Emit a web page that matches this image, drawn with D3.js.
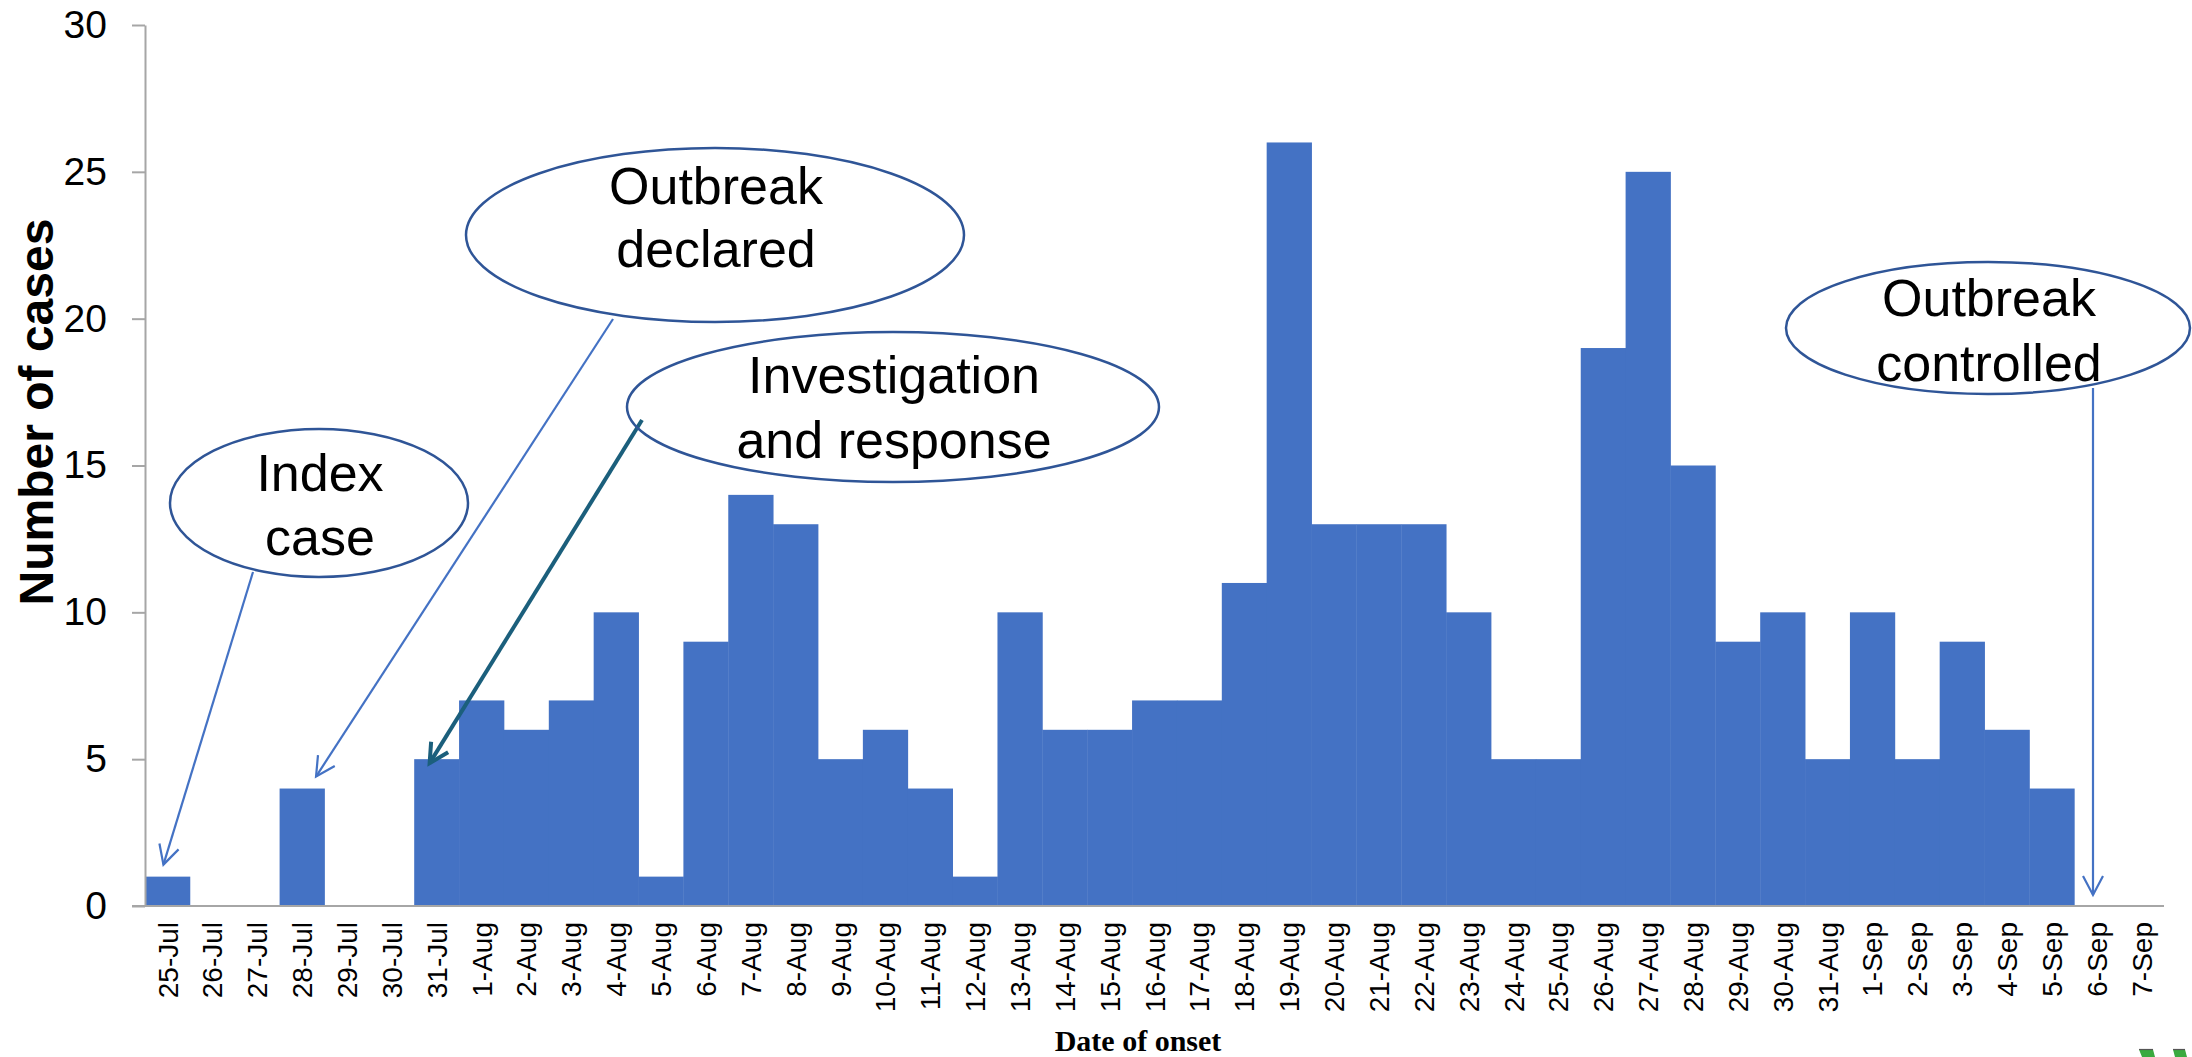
<!DOCTYPE html>
<html>
<head>
<meta charset="utf-8">
<script src="https://cdnjs.cloudflare.com/ajax/libs/d3/7.8.5/d3.min.js"></script>
<style>
  html, body { margin: 0; padding: 0; background: #ffffff; }
  svg { display: block; }
</style>
</head>
<body>
<svg id="chart" width="2192" height="1057"></svg>
<script>
// ---- Data ----
const dates = [
  "25-Jul","26-Jul","27-Jul","28-Jul","29-Jul","30-Jul","31-Jul",
  "1-Aug","2-Aug","3-Aug","4-Aug","5-Aug","6-Aug","7-Aug","8-Aug","9-Aug","10-Aug",
  "11-Aug","12-Aug","13-Aug","14-Aug","15-Aug","16-Aug","17-Aug","18-Aug","19-Aug","20-Aug",
  "21-Aug","22-Aug","23-Aug","24-Aug","25-Aug","26-Aug","27-Aug","28-Aug","29-Aug","30-Aug","31-Aug",
  "1-Sep","2-Sep","3-Sep","4-Sep","5-Sep","6-Sep","7-Sep"
];
const cases = [
  1,0,0,4,0,0,5,
  7,6,7,10,1,9,14,13,5,6,
  4,1,10,6,6,7,7,11,26,13,
  13,13,10,5,5,19,25,15,9,10,5,
  10,5,9,6,4,0,0
];
const yTicks = [0,5,10,15,20,25,30];

const annotationTexts = [
  ["Index", "case"],
  ["Outbreak", "declared"],
  ["Investigation", "and response"],
  ["Outbreak", "controlled"]
];
const annotationTargets = ["25-Jul", "28-Jul", "31-Jul", "6-Sep"];

// ---- Layout ----
const svg = d3.select("#chart");
const plot = { left: 145, right: 2164, top: 25, bottom: 906 };

const x = d3.scaleBand().domain(dates).range([plot.left, plot.right]).paddingInner(0).paddingOuter(0);
const y = d3.scaleLinear().domain([0, 30]).range([plot.bottom, plot.top]);

const barColor = "#4472c4";
const axisColor = "#a6a6a6";

// Bars
svg.append("g").selectAll("rect")
  .data(dates.map((d, i) => ({ d, v: cases[i] })))
  .join("rect")
  .attr("x", o => x(o.d))
  .attr("width", x.bandwidth() + 0.4)
  .attr("y", o => y(o.v))
  .attr("height", o => y(0) - y(o.v))
  .attr("fill", barColor);

// Y axis
const yAxis = d3.axisLeft(y).tickValues(yTicks).tickSize(13).tickPadding(25).tickSizeOuter(0);
const gy = svg.append("g").attr("transform", `translate(${plot.left},0)`).call(yAxis);
gy.select(".domain").attr("stroke", axisColor).attr("stroke-width", 2);
gy.selectAll(".tick line").attr("stroke", axisColor).attr("stroke-width", 2);
gy.selectAll(".tick text")
  .attr("font-family", "'Liberation Sans', Arial, sans-serif")
  .attr("font-size", 39)
  .attr("fill", "#000");

// X axis
const xAxis = d3.axisBottom(x).tickSize(0).tickPadding(0).tickSizeOuter(0);
const gx = svg.append("g").attr("transform", `translate(0,${plot.bottom})`).call(xAxis);
gx.select(".domain").remove();
gx.append("line")
  .attr("x1", plot.left - 13).attr("x2", plot.right)
  .attr("y1", 0).attr("y2", 0)
  .attr("stroke", axisColor).attr("stroke-width", 2);
gx.selectAll(".tick text")
  .attr("font-family", "'Liberation Sans', Arial, sans-serif")
  .attr("font-size", 28)
  .attr("fill", "#000")
  .attr("text-anchor", "end")
  .attr("transform", "translate(0,16) rotate(-90)")
  .attr("x", 0).attr("y", 0)
  .attr("dy", "0.36em");

// Axis titles
svg.append("text")
  .attr("transform", "translate(53,412) rotate(-90)")
  .attr("text-anchor", "middle")
  .attr("font-family", "'Liberation Sans', Arial, sans-serif")
  .attr("font-weight", "bold")
  .attr("font-size", 48)
  .attr("fill", "#000")
  .text("Number of cases");

svg.append("text")
  .attr("x", 1138).attr("y", 1051)
  .attr("text-anchor", "middle")
  .attr("font-family", "'Liberation Serif', 'Times New Roman', serif")
  .attr("font-weight", "bold")
  .attr("font-size", 30)
  .attr("fill", "#000")
  .text("Date of onset");

// ---- Annotations ----
const defs = svg.append("defs");
function addMarker(id, color, w) {
  defs.append("marker")
    .attr("id", id)
    .attr("markerUnits", "userSpaceOnUse")
    .attr("viewBox", "-22 -12 26 24")
    .attr("markerWidth", 26).attr("markerHeight", 24)
    .attr("refX", 0).attr("refY", 0)
    .attr("orient", "auto")
    .append("path")
    .attr("d", "M-19,-10 L0,0 L-19,10")
    .attr("fill", "none")
    .attr("stroke", color)
    .attr("stroke-width", w)
    .attr("stroke-linejoin", "miter");
}
addMarker("arrowBlue", "#4472c4", 2.2);
addMarker("arrowTeal", "#1b5f7c", 4);

const valueOf = d => cases[dates.indexOf(d)];
const ann = [
  { cx: 319, cy: 503, rx: 149, ry: 74, base: 491, line: 64,
    from: [253, 572], tipDx: -4, tipDy: -12, color: "#4472c4", w: 2.2, marker: "arrowBlue" },
  { cx: 715, cy: 235, rx: 249, ry: 87, base: 204, line: 63,
    from: [613, 319], tipDx: 14, tipDy: -12, color: "#4472c4", w: 2.2, marker: "arrowBlue" },
  { cx: 893, cy: 407, rx: 266, ry: 75, base: 393, line: 65,
    from: [642, 420], tipDx: -7, tipDy: 4, color: "#1b5f7c", w: 4, marker: "arrowTeal" },
  { cx: 1988, cy: 328, rx: 202, ry: 66, base: 316, line: 65,
    from: [2093, 388], tipDx: null, tipDy: -11, color: "#4472c4", w: 2.2, marker: "arrowBlue" }
];

const ga = svg.append("g");
ann.forEach((a, i) => {
  const d = annotationTargets[i];
  const tx = a.tipDx === null ? a.from[0] : x(d) + x.bandwidth() / 2 + a.tipDx;
  const ty = y(valueOf(d)) + a.tipDy;
  ga.append("line")
    .attr("x1", a.from[0]).attr("y1", a.from[1])
    .attr("x2", tx).attr("y2", ty)
    .attr("stroke", a.color).attr("stroke-width", a.w)
    .attr("marker-end", `url(#${a.marker})`);
});
ann.forEach((a, i) => {
  ga.append("ellipse")
    .attr("cx", a.cx).attr("cy", a.cy).attr("rx", a.rx).attr("ry", a.ry)
    .attr("fill", "none").attr("stroke", "#2f5597").attr("stroke-width", 2.5);
  const t = ga.append("text")
    .attr("text-anchor", "middle")
    .attr("font-family", "'Liberation Sans', Arial, sans-serif")
    .attr("font-size", 52)
    .attr("fill", "#000");
  annotationTexts[i].forEach((s, k) => {
    t.append("tspan").attr("x", a.cx + 1).attr("y", a.base + k * a.line).text(s);
  });
});

// Partial green logo at bottom-right edge
const logo = svg.append("g");
[[2139, 2153, 2155, 2142], [2173, 2185, 2187, 2175]].forEach(p => {
  logo.append("path")
    .attr("d", `M${p[0]},1049.5 L${p[1]},1049.5 L${p[2]},1057 L${p[3]},1057 Z`)
    .attr("fill", "#3aaa3f");
  logo.append("line")
    .attr("x1", p[0]).attr("x2", p[1]).attr("y1", 1049.5).attr("y2", 1049.5)
    .attr("stroke", "#555").attr("stroke-width", 1.2);
});
</script>
</body>
</html>
